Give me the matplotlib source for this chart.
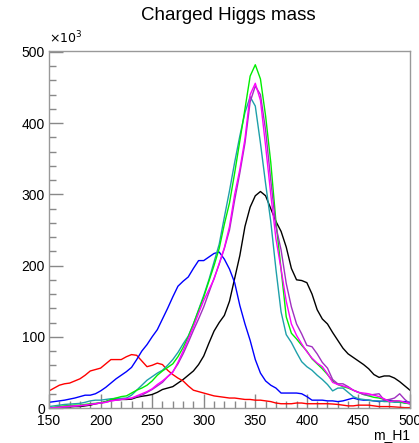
import numpy as np
import matplotlib
matplotlib.use("Agg")
from matplotlib import pyplot as plt
from matplotlib.ticker import MultipleLocator

plt.rcParams['font.family'] = ['Liberation Sans', 'DejaVu Sans']

# m_H1 bin centres (GeV), values in units of 10^3
mass = np.arange(150, 501, 5)

black = [0, 0.5, 1, 1.5, 1.5, 2, 2, 3, 4, 6, 7, 9, 11, 11.5, 12, 12, 12.5, 15, 16.5, 17.5,
         19, 22, 26, 28, 30, 35, 40, 46, 52, 61, 73, 91, 108, 120, 130, 150, 182, 214, 255, 282,
         298, 304, 298, 280, 262, 248, 226, 196, 180, 179, 176, 160, 138, 125, 118, 106, 95, 84, 76, 71,
         66, 61, 55, 47, 43, 45, 45, 42, 37, 31, 25]
red = [24, 28, 32, 34, 35, 38, 41, 46, 52, 54, 56, 62, 68, 68, 68, 72, 75, 74, 66, 58,
       60, 63, 61, 53, 47, 42, 38, 31, 25, 23, 21, 19, 17, 16, 15, 14, 14, 13, 12, 12,
       11, 11, 10, 9, 7, 6, 6, 6, 7, 7, 6, 6, 6, 6, 6, 5.6, 5, 4, 3, 3,
       4, 4, 4, 3, 2, 2, 2, 1.5, 1, 0.5, 0.5]
blue = [8, 9, 10, 11, 12.5, 14, 16, 18, 18, 20, 24, 29, 35, 41, 46, 51, 57, 68, 80, 89,
        100, 110, 125, 140, 156, 171, 178, 184, 196, 207, 207, 212, 217, 219, 209, 195, 176, 144, 118, 95,
        68, 49, 38, 32, 28, 21, 21, 21, 21, 20, 16, 11, 11, 11, 10, 10, 9, 10, 12, 14,
        12, 11, 11, 10, 9, 10, 11, 10, 9, 9, 8]
green = [0, 1, 2, 3, 3.5, 4, 4, 5, 6, 6.5, 7, 9, 12, 14, 16, 17, 21, 25, 28, 32,
         38, 46, 52, 57, 62, 72, 85, 100, 118, 137, 156, 178, 200, 224, 258, 288, 330, 375, 420, 466,
         482, 462, 410, 345, 262, 195, 128, 105, 97, 88, 80, 69, 62, 55, 47, 38, 33, 30, 28, 25,
         22, 19, 17, 15, 14, 12, 9, 10, 9, 7, 6]
teal = [2, 3, 4, 5, 5.5, 6, 6.5, 8, 10, 11, 11, 12, 13, 13.5, 13.5, 14, 18, 25, 32, 39,
        44, 49, 53, 60, 68, 78, 90, 101, 118, 138, 158, 180, 205, 230, 268, 305, 345, 382, 415, 437,
        424, 372, 315, 262, 195, 135, 103, 92, 78, 65, 58, 53, 46, 40, 33, 24, 28, 28, 22, 16,
        13, 12, 11, 10, 10, 9, 9, 8, 8, 7, 6]
magenta = [0, 0.5, 1, 2, 2.5, 3, 3.5, 4, 5, 6, 7, 8, 10, 11, 12, 13, 14, 17, 20, 23,
           27, 33, 38, 44, 50, 64, 80, 97, 114, 133, 151, 166, 181, 203, 225, 255, 300, 335, 378, 440,
           456, 432, 368, 300, 238, 195, 150, 118, 102, 90, 79, 70, 63, 58, 48, 36, 33, 31, 29, 25,
           22, 21, 20, 18, 16, 13, 9, 10, 10, 8, 6]
purple = [0, 0.5, 1, 1.5, 2, 2.5, 3, 4, 5, 6, 7, 8, 10, 11, 12, 13, 13.5, 16, 18, 22,
          26, 31, 36, 44, 51, 62, 76, 92, 109, 125, 142, 162, 182, 202, 224, 250, 292, 330, 372, 430,
          452, 440, 390, 320, 255, 222, 175, 142, 118, 104, 88, 86, 76, 64, 56, 40, 34, 34, 30, 25,
          22, 19, 18, 19, 20, 11, 12, 14, 20, 12, 6]

series = [(black, 'black'), (red, '#ff0000'), (blue, '#0000ff'), (teal, '#1ea0aa'),
          (green, '#00ee00'), (purple, '#a030c0'), (magenta, '#ff00ff')]

fig = plt.figure(figsize=(4.19, 4.43), dpi=100)
ax = fig.add_axes([0.117, 0.079, 0.8615, 0.807])

for vals, col in series:
    ax.plot(mass, vals, color=col, lw=1.0)

ax.set_xlim(150, 500)
ax.set_ylim(0, 502)

ax.xaxis.set_major_locator(MultipleLocator(50))
ax.xaxis.set_minor_locator(MultipleLocator(10))
ax.yaxis.set_major_locator(MultipleLocator(100))
ax.yaxis.set_minor_locator(MultipleLocator(20))
ax.tick_params(which='both', direction='in', top=False, right=False, color='#888888',
               labelsize=10, width=1)
ax.tick_params(which='major', length=10)
ax.tick_params(which='minor', length=5)
ax.tick_params(axis='x', pad=4)
ax.tick_params(axis='y', pad=3)
for s in ax.spines.values():
    s.set_color('#999999')
    s.set_linewidth(1)

fig.text(0.546, 0.966, 'Charged Higgs mass', ha='center', va='center', fontsize=13.5)
ax.text(0.0, 1.012, r'$\times10^{3}$', transform=ax.transAxes, ha='left', va='bottom', fontsize=9)
fig.text(0.978, 0.003, 'm_H1', ha='right', va='bottom', fontsize=10)

fig.savefig('out.png', dpi=100)
